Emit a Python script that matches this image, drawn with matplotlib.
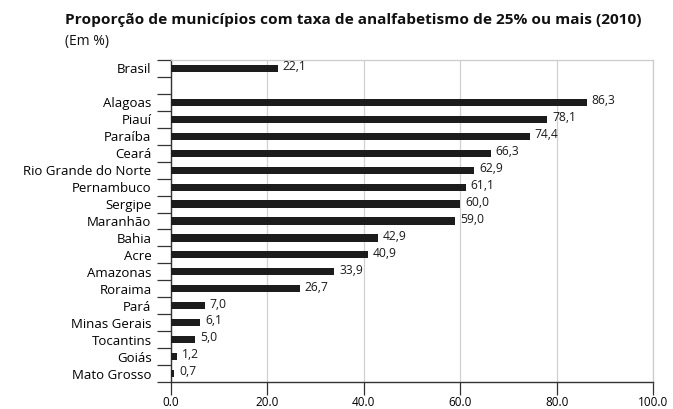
import matplotlib
matplotlib.use("Agg")
import matplotlib.pyplot as plt
from matplotlib import font_manager
import numpy as np

names = {f.name for f in font_manager.fontManager.ttflist}
fam = ['Liberation Sans Narrow', 'Open Sans', 'DejaVu Sans']
fam = [f for f in fam if f in names] + ['DejaVu Sans']
plt.rcParams['font.family'] = fam

categories = ["Brasil", "Alagoas", "Piauí", "Paraíba", "Ceará", "Rio Grande do Norte",
              "Pernambuco", "Sergipe", "Maranhão", "Bahia", "Acre", "Amazonas",
              "Roraima", "Pará", "Minas Gerais", "Tocantins", "Goiás", "Mato Grosso"]
values = [22.1, 86.3, 78.1, 74.4, 66.3, 62.9, 61.1, 60.0, 59.0, 42.9, 40.9, 33.9,
          26.7, 7.0, 6.1, 5.0, 1.2, 0.7]
value_labels = ["22,1", "86,3", "78,1", "74,4", "66,3", "62,9", "61,1", "60,0", "59,0",
                "42,9", "40,9", "33,9", "26,7", "7,0", "6,1", "5,0", "1,2", "0,7"]
xticks = [0, 20, 40, 60, 80, 100]
xtick_labels = ["0.0", "20.0", "40.0", "60.0", "80.0", "100.0"]
title = "Proporção de municípios com taxa de analfabetismo de 25% ou mais (2010)"
subtitle = "(Em %)"

positions = [0] + list(range(2, 2 + len(categories) - 1))

fig = plt.figure(figsize=(6.73, 4.09), dpi=100)
ax = fig.add_axes([171/673, 1-382/409, (653-171)/673, (382-60)/409])

ax.barh(positions, values, height=0.42, color="#1c1c1c", zorder=3)
for p, v, lab in zip(positions, values, value_labels):
    ax.text(v + 1.0, p - 0.1, lab, va="center", ha="left", fontsize=8.7, color="#1a1a1a")

ax.set_xlim(0, 100)
ax.set_ylim(18.5, -0.5)
ax.set_yticks(positions)
ax.set_yticklabels(categories, fontsize=9.5)
ax.tick_params(axis="y", which="major", length=0, pad=14)
ax.set_yticks(np.arange(-0.5, 19, 1.0), minor=True)
ax.tick_params(axis="y", which="minor", length=10, width=0.9, color="#333333", direction="out")
ax.set_xticks(xticks)
ax.set_xticklabels(xtick_labels, fontsize=8.5)
ax.tick_params(axis="x", length=9, width=0.9, color="#333333", pad=1)
ax.grid(axis="x", color="#d0d0d0", linewidth=0.9, zorder=0)
for s in ["top", "right"]:
    ax.spines[s].set_color("#cccccc")
    ax.spines[s].set_linewidth(0.9)
for s in ["left", "bottom"]:
    ax.spines[s].set_color("#333333")
    ax.spines[s].set_linewidth(1.0)

fig.text(65/673, 1-20/409, title, fontsize=11.1, fontweight="bold", va="center", ha="left", color="#111111")
fig.text(65/673, 1-42/409, subtitle, fontsize=10, va="center", ha="left", color="#111111")

fig.savefig("out.png", dpi=100)
